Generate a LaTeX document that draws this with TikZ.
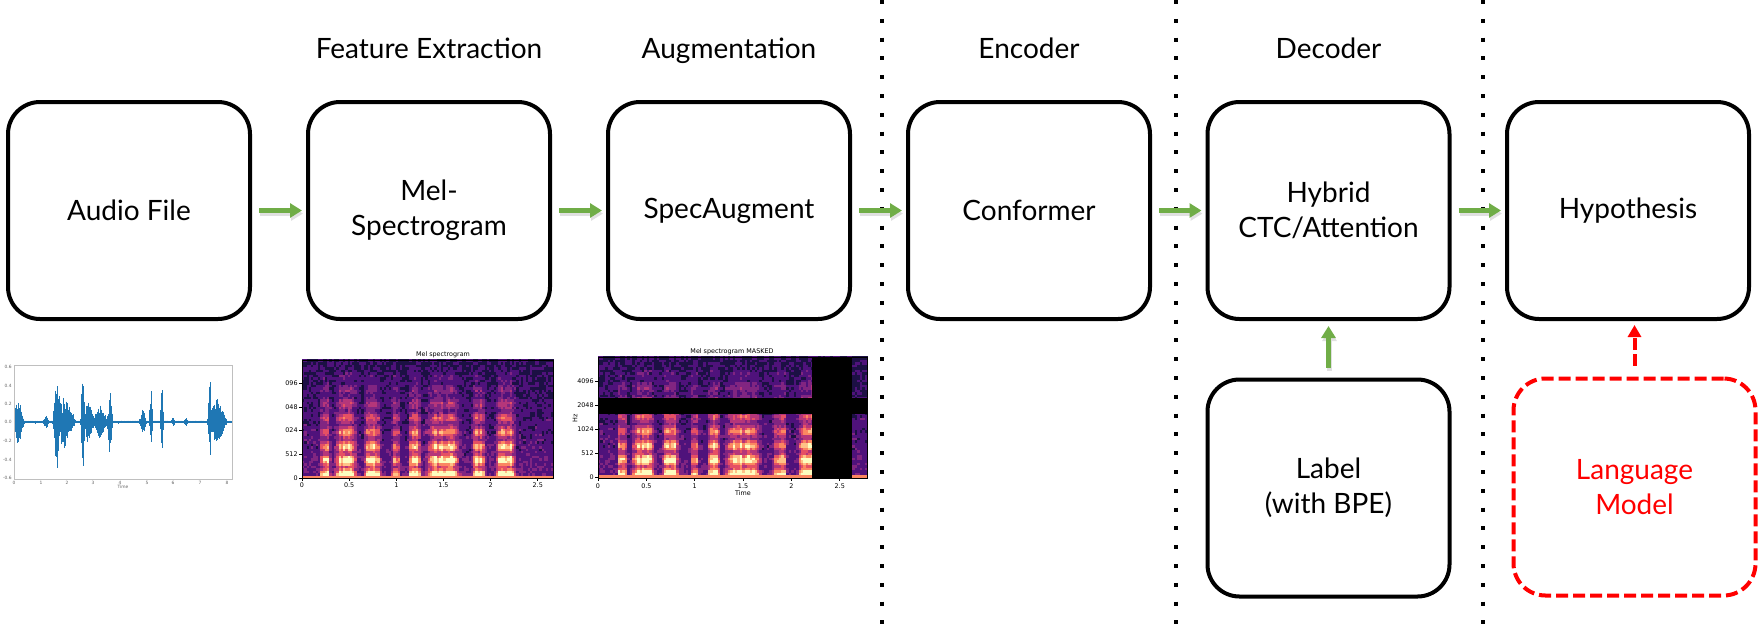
\documentclass[tikz,border=0pt]{standalone}
\usepackage{fontspec}
\setmainfont{Lato}
\newfontfamily\mplfont{DejaVu Sans}
\usetikzlibrary{arrows.meta}
\definecolor{arrgreen}{RGB}{112,173,71}
\definecolor{wave}{RGB}{31,119,180}
\definecolor{mag0}{HTML}{000004}
\definecolor{mag1}{HTML}{1C1044}
\definecolor{mag2}{HTML}{4F127B}
\definecolor{mag3}{HTML}{812581}
\definecolor{mag4}{HTML}{B5367A}
\definecolor{mag5}{HTML}{E55064}
\definecolor{mag6}{HTML}{FB8761}
\definecolor{mag7}{HTML}{FEC287}
\definecolor{mag8}{HTML}{FCFDBF}
\newcommand\mybump[3]{#3*min(1,2*max(0,1-abs(\sT-#1)/#2))}
\newcommand\mydrawspec[5]{%
  \pgfmathsetseed{7}%
  \pgfmathsetmacro\cw{#3/110}%
  \pgfmathsetmacro\ch{#4/48}%
  \foreach \i in {0,...,109}{%
    \pgfmathsetmacro\sT{(\i+0.5)/110*#5}%
    \pgfmathsetmacro\sA{max(\mybump{0.25}{0.06}{0.9},\mybump{0.47}{0.13}{1.0},\mybump{0.75}{0.1}{0.85},\mybump{1.0}{0.05}{0.6})}%
    \pgfmathsetmacro\sB{max(\mybump{1.2}{0.07}{0.95},\mybump{1.5}{0.2}{0.95},\mybump{1.88}{0.08}{0.85},\mybump{2.17}{0.12}{0.9})}%
    \pgfmathsetmacro\sC{max(\sA,\sB)*(0.7+0.4*rnd)}%
    \pgfmathsetmacro\xa{#1+\i*\cw}%
    \pgfmathsetmacro\xb{#1+(\i+1)*\cw+0.6}%
    \foreach \j in {0,...,47}{%
      \pgfmathsetmacro\sF{(\j+0.5)/48}%
      \pgfmathsetmacro\sV{0.2+0.12*(1-\sF)+\sC*(1-\sF)*(1-0.3*\sF)*(0.68+0.32*sin(\sF*3000))+0.15*rnd-0.075}%
      \pgfmathtruncatemacro\idx{max(0,min(8,9*\sV))}%
      \ifnum\j=0 \def\idx{6}\fi
      \pgfmathsetmacro\ya{#2+#4-\j*\ch}%
      \pgfmathsetmacro\yb{#2+#4-(\j+1)*\ch-0.6}%
      \fill[mag\idx] (\xa,\ya) rectangle (\xb,\yb);
    }%
  }%
  \draw[line width=0.3pt] (#1,#2) rectangle ++(#3,#4);
}
\begin{document}
\begin{tikzpicture}[x=0.5pt,y=-0.5pt,
  box/.style={draw, line width=2pt, rounded corners=16pt, minimum width=121pt,
    minimum height=108.5pt, align=center, inner sep=0pt,
    font=\fontsize{14pt}{17.5pt}\selectfont},
  lmbox/.style={box, draw=red, text=red, dash pattern=on 6pt off 2.5pt},
  toplab/.style={anchor=base, inner sep=0pt, font=\fontsize{14pt}{17.5pt}\selectfont},
  garrow/.style={draw=arrgreen, line width=2.5pt, -{Triangle[length=6pt,width=7pt]},
    preaction={draw=black!12, line width=2.5pt, transform canvas={shift={(1,3)}}}},
  rarrow/.style={draw=red, line width=2pt, dash pattern=on 6pt off 2pt, -{Triangle[length=6pt,width=6.5pt]}},
  dotline/.style={line width=2pt, dash pattern=on 2pt off 7.4pt},
  tick/.style={inner sep=0pt, font=\mplfont\fontsize{3.2pt}{4pt}\selectfont},
  wtick/.style={inner sep=0pt, text=black!60, font=\mplfont\fontsize{2.2pt}{3pt}\selectfont}
]
\useasboundingbox (0,0) rectangle (1758,628);

% boxes
\node[box] (b1) at (129,210.5) {Audio File};
\node[box] (b2) at (429,210.5) {Mel-\\Spectrogram};
\node[box] (b3) at (729,210.5) {SpecAugment};
\node[box] (b4) at (1029,210.5) {Conformer};
\node[box] (b5) at (1328.5,210.5) {Hybrid\\CTC/Attention};
\node[box] (b6) at (1628,210.5) {Hypothesis};
\node[box] (lab) at (1328.5,488) {Label\\(with BPE)};
\node[lmbox] (lm) at (1634.5,487) {Language\\Model};

% top labels
\node[toplab] (t2) at (429,58) {Feature Extraction};
\node[toplab] (t3) at (729,58) {Augmentation};
\node[toplab] (t4) at (1029,58) {Encoder};
\node[toplab] (t5) at (1328.5,58) {Decoder};

% dotted separators
\draw[dotline] (882,0) -- (882,628);
\draw[dotline] (1176,0) -- (1176,628);
\draw[dotline] (1483,0) -- (1483,628);

% arrows
\draw[garrow, shorten <=3.5pt, shorten >=2pt] (b1) -- (b2);
\draw[garrow, shorten <=3.5pt, shorten >=2pt] (b2) -- (b3);
\draw[garrow, shorten <=3.5pt, shorten >=2pt] (b3) -- (b4);
\draw[garrow, shorten <=3.5pt, shorten >=2pt] (b4) -- (b5);
\draw[garrow, shorten <=3.5pt, shorten >=2pt] (b5) -- (b6);
\draw[garrow, shorten <=5pt, shorten >=2.5pt] (lab) -- (b5);
\draw[rarrow, shorten <=5.5pt, shorten >=2pt] (lm.north) -- (lm.north |- b6.south);

% waveform plot
\pgfmathsetseed{3}
\foreach \x in {15,15.4,...,231}{%
  \pgfmathsetmacro\env{1.5+max(22*max(0,1-abs(\x-18)/6), 6*max(0,1-abs(\x-46)/3), 50*max(0,1-abs(\x-57)/4), 26*max(0,1-abs(\x-64)/12), 52*max(0,1-abs(\x-83)/2.5), 22*max(0,1-abs(\x-88)/7), 16*max(0,1-abs(\x-100)/8), 35*max(0,1-abs(\x-110)/3), 12*max(0,1-abs(\x-143)/4), 30*max(0,1-abs(\x-151)/2), 38*max(0,1-abs(\x-162)/2), 4*max(0,1-abs(\x-173)/2), 3*max(0,1-abs(\x-186)/2), 42*max(0,1-abs(\x-210)/2.5), 24*max(0,1-abs(\x-217)/10))}%
  \pgfmathsetmacro\ua{422-\env*(0.3+0.7*rnd)}%
  \pgfmathsetmacro\ub{422+\env*(0.3+0.7*rnd)}%
  \draw[wave, line width=0.3pt] (\x,\ua) -- (\x,\ub);
}
\draw[black!25, line width=0.4pt] (14,365) rectangle (232,479);
\foreach \yy/\lab in {367/0.6,386/0.4,404/0.2,422/0.0,441/-0.2,460/-0.4,478/-0.6}
  \node[wtick, anchor=east] at (12,\yy) {\lab};
\foreach \xx/\lab in {14/0,41/1,67/2,93/3,120/4,147/5,173/6,200/7,227/8}
  \node[wtick] at (\xx,483) {\lab};
\node[wtick] at (123,487) {Time};

% spectrogram 1
\mydrawspec{302}{360}{251}{118}{2.67}
\node[tick] at (443,355) {Mel spectrogram};
\foreach \yy/\lab in {383/096,407/048,430/024,454/512,478/0}{
  \draw[line width=0.3pt] (302,\yy) -- (299,\yy);
  \node[tick, anchor=east] at (298,\yy) {\lab};}
\foreach \tv in {0,0.5,1,1.5,2,2.5}{
  \draw[line width=0.3pt] (302+\tv*94.3,478) -- (302+\tv*94.3,481);
  \node[tick] at (302+\tv*94.3,485) {\tv};}

% spectrogram 2
\mydrawspec{598}{357}{269}{121}{2.78}
\fill[black] (598,398) rectangle (867,414);
\fill[black] (812,357) rectangle (852,478);
\node[tick] at (732,352) {Mel spectrogram MASKED};
\foreach \yy/\lab in {381/4096,405/2048,429/1024,453/512,477/0}{
  \draw[line width=0.3pt] (598,\yy) -- (595,\yy);
  \node[tick, anchor=east] at (594,\yy) {\lab};}
\node[tick, rotate=90] at (575,418) {Hz};
\foreach \tv in {0,0.5,1,1.5,2,2.5}{
  \draw[line width=0.3pt] (598+\tv*96.7,478) -- (598+\tv*96.7,481);
  \node[tick] at (598+\tv*96.7,486) {\tv};}
\node[tick] at (743,493) {Time};
\end{tikzpicture}
\end{document}
